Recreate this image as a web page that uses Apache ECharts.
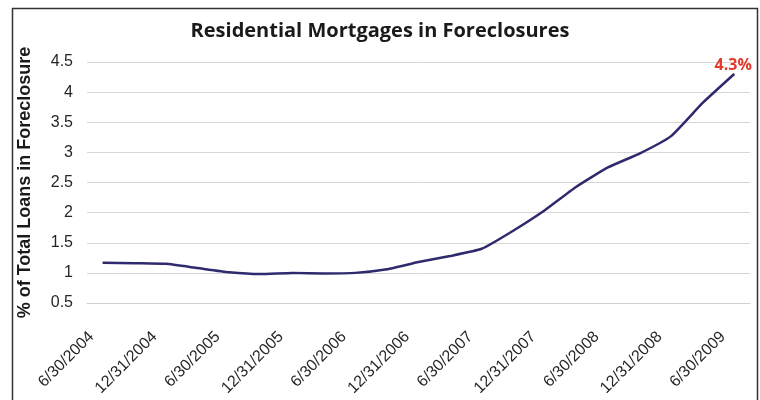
<!DOCTYPE html>
<html>
<head>
<meta charset="utf-8">
<script src="https://cdn.jsdelivr.net/npm/echarts@6/dist/echarts.min.js"></script>
<style>
  html, body { margin: 0; padding: 0; background: #ffffff; }
  #chart { width: 760px; height: 400px; }
</style>
</head>
<body>
<div id="chart"></div>
<script>
// Quarter-end dates, mid-2004 through mid-2009
const quarters = [
  '6/30/2004', '9/30/2004', '12/31/2004', '3/31/2005', '6/30/2005', '9/30/2005',
  '12/31/2005', '3/31/2006', '6/30/2006', '9/30/2006', '12/31/2006', '3/31/2007',
  '6/30/2007', '9/30/2007', '12/31/2007', '3/31/2008', '6/30/2008', '9/30/2008',
  '12/31/2008', '3/31/2009', '6/30/2009'
];

// Share of residential mortgages in foreclosure (%)
const foreclosureRate = [
  1.17, 1.16, 1.15, 1.08, 1.01, 0.98, 1.00, 0.99, 1.00, 1.06, 1.18,
  1.28, 1.40, 1.70, 2.04, 2.43, 2.75, 2.98, 3.27, 3.82, 4.30
];

const yTicks = { min: 0.5, max: 4.5, step: 0.5 };

const lineColor = '#2f2a6e';
const lastIdx = foreclosureRate.length - 1;

// Only the latest reading carries a value label
const seriesData = foreclosureRate.map((v, i) => i === lastIdx ? {
  value: v,
  label: {
    show: true,
    position: 'top',
    distance: 2,
    offset: [-1, 2],
    formatter: p => p.value.toFixed(1) + '%',
    color: '#e5392c',
    fontFamily: 'Open Sans',
    fontWeight: 'bold',
    fontSize: 16
  }
} : v);

const chart = echarts.init(document.getElementById('chart'), null, { renderer: 'canvas' });

chart.setOption({
  backgroundColor: '#ffffff',
  animation: false,
  title: {
    text: 'Residential Mortgages in Foreclosures',
    left: 'center',
    top: 16,
    textStyle: {
      fontFamily: 'Open Sans',
      fontWeight: 'bold',
      fontSize: 20,
      color: '#1a1a1a'
    }
  },
  graphic: [{
    type: 'rect',
    left: 10,
    top: 6,
    shape: { width: 745, height: 400 },
    style: { fill: 'none', stroke: '#333333', lineWidth: 1.5 },
    silent: true
  }],
  grid: { left: 87, right: 10, top: 62, bottom: 97 },
  xAxis: {
    type: 'category',
    data: quarters,
    boundaryGap: true,
    axisLine: { show: true, lineStyle: { color: '#d0d0d0' } },
    axisTick: { show: false },
    axisLabel: {
      interval: 1,
      rotate: 45,
      margin: 20,
      padding: [0, 16, 0, 0],
      color: '#262626',
      fontFamily: 'Liberation Sans',
      fontSize: 16
    }
  },
  yAxis: {
    type: 'value',
    min: yTicks.min,
    max: yTicks.max,
    interval: yTicks.step,
    name: '% of Total Loans in Foreclosure',
    nameLocation: 'middle',
    nameGap: 53,
    nameTextStyle: {
      fontFamily: 'Liberation Sans',
      fontWeight: 'bold',
      fontSize: 18,
      color: '#1a1a1a'
    },
    axisLine: { show: false },
    axisTick: { show: false },
    axisLabel: {
      margin: 14,
      color: '#262626',
      fontFamily: 'Liberation Sans',
      fontSize: 16,
      formatter: v => String(v)
    },
    splitLine: { lineStyle: { color: '#d6d6d6', width: 1 } }
  },
  series: [{
    type: 'line',
    data: seriesData,
    symbol: 'circle',
    symbolSize: 1,
    showSymbol: true,
    smooth: 0.15,
    lineStyle: { color: lineColor, width: 2.5 },
    itemStyle: { color: lineColor }
  }]
});
</script>
</body>
</html>
